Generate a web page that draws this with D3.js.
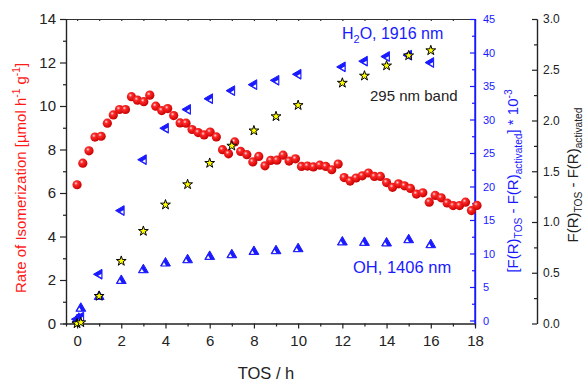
<!DOCTYPE html>
<html><head><meta charset="utf-8">
<script src="https://cdn.jsdelivr.net/npm/d3@7"></script>
<style>body{margin:0;background:#fff}svg{display:block;font-family:"Liberation Sans",Arial,sans-serif}</style>
</head><body><svg id="c" width="584" height="383"></svg>
<script>
// ---- data ----
const rateTime=[0,0.26,0.54,0.81,1.09,1.37,1.64,1.92,2.19,2.46,2.73,3.02,3.29,3.56,3.83,4.10,4.37,4.66,4.93,5.20,5.48,5.75,6.02,6.30,6.58,6.85,7.13,7.40,7.68,7.95,8.22,8.50,8.76,9.04,9.32,9.59,9.88,10.15,10.42,10.69,10.98,11.25,11.52,11.81,12.08,12.35,12.62,12.90,13.18,13.45,13.72,14.00,14.27,14.54,14.81,15.08,15.35,15.64,15.93,16.20,16.47,16.74,17.01,17.30,17.57,17.84,18.09];
const rateValues=[6.38,7.37,7.94,8.57,8.61,9.21,9.59,9.84,9.84,10.43,10.27,10.20,10.50,9.99,9.79,9.88,9.56,9.22,9.21,8.92,8.78,8.67,8.80,8.58,7.99,7.80,8.35,7.91,7.76,7.43,7.68,7.25,7.50,7.51,7.74,7.47,7.57,7.22,7.24,7.20,7.28,7.22,7.07,7.33,6.71,6.55,6.69,6.79,6.92,6.76,6.76,6.48,6.26,6.42,6.33,6.21,5.95,6.01,5.58,5.89,5.78,5.54,5.42,5.42,5.58,5.19,5.43];
const bandTime=[0,0.17,1,2,3,4,5,6,7,8,9,10,12,13,14,15,16];
const bandValues=[0.0,0.01,0.27,0.615,0.91,1.17,1.37,1.58,1.75,1.90,2.04,2.15,2.37,2.44,2.54,2.64,2.69];
const h2oTime=[0,0.17,1,2,3,4,5,6,7,8,9,10,12,13,14,15,16];
const h2oValues=[0.2,0.5,6.9,16.4,24.0,28.7,31.5,33.1,34.3,35.2,35.85,36.75,37.85,38.7,39.4,39.6,38.5];
const ohTime=[0,0.08,0.17,1,2,3,4,5,6,7,8,9,10,12,13,14,15,16];
const ohValues=[0.1,0.3,1.8,3.56,5.95,7.55,8.55,9.04,9.54,9.79,10.28,10.39,10.69,11.69,11.63,11.54,12.03,11.29];
const xTicks=[0,2,4,6,8,10,12,14,16,18];
const leftTicks=[0,2,4,6,8,10,12,14];
const blueTicks=[0,5,10,15,20,25,30,35,40,45];
const thirdTicks=[0,0.5,1.0,1.5,2.0,2.5,3.0];

// ---- layout ----
const L=66,R=475,T=19,B=323.5,AX3=537;
const svg=d3.select('#c');
const x=d3.scaleLinear().domain([-0.5,18]).range([L,R]);
const yL=d3.scaleLinear().domain([0,14]).range([B,T]);
const yB=d3.scaleLinear().domain([-0.45,45]).range([B,T]);
const y3=d3.scaleLinear().domain([0,3]).range([B,T]);
const blue='#1a1aff', red='#ff1a1a', ink='#222';

const defs=svg.append('defs');
const g=defs.append('radialGradient').attr('id','rg').attr('cx','38%').attr('cy','35%').attr('r','65%');
g.append('stop').attr('offset','0%').attr('stop-color','#ffe0e0');
g.append('stop').attr('offset','30%').attr('stop-color','#ff2a2a');
g.append('stop').attr('offset','100%').attr('stop-color','#c80000');

function styleAxis(sel,color,fs){
  sel.selectAll('path,line').attr('stroke',color).attr('stroke-width',1.2);
  sel.selectAll('text').attr('fill',color).attr('font-size',fs).attr('font-family','"Liberation Sans",Arial,sans-serif');
}
// bottom axis
const oddX=d3.range(1,18,2);
svg.append('g').attr('transform',`translate(0,${B})`).call(d3.axisBottom(x).tickValues(oddX).tickSize(3).tickFormat('')).call(s=>styleAxis(s,ink,15));
svg.append('g').attr('transform',`translate(0,${B})`).call(d3.axisBottom(x).tickValues(xTicks).tickSizeInner(5).tickSizeOuter(0).tickPadding(7)).call(s=>styleAxis(s,ink,15));
// top line
svg.append('g').attr('transform',`translate(0,${T})`).call(d3.axisTop(x).tickValues(d3.range(0,19,1)).tickSizeInner(-2).tickSizeOuter(0).tickFormat('')).call(s=>styleAxis(s,'#333',14));
// left axis
svg.append('g').attr('transform',`translate(${L},0)`).call(d3.axisLeft(yL).tickValues(d3.range(1,14,2)).tickSize(3).tickFormat('')).call(s=>styleAxis(s,ink,15));
svg.append('g').attr('transform',`translate(${L},0)`).call(d3.axisLeft(yL).tickValues(leftTicks).tickSizeInner(6).tickSizeOuter(0).tickPadding(4)).call(s=>styleAxis(s,ink,15));
// blue axis
svg.append('g').attr('transform',`translate(${R},0)`).call(d3.axisRight(yB).tickValues(d3.range(2.5,45,5)).tickSizeInner(-3).tickSizeOuter(0).tickFormat('')).call(s=>styleAxis(s,blue,11));
svg.append('g').attr('transform',`translate(${R},0)`).call(d3.axisRight(yB).tickValues(blueTicks).tickSizeInner(-5).tickSizeOuter(0).tickPadding(8)).call(s=>styleAxis(s,blue,11));
svg.append('line').attr('x1',R).attr('x2',R).attr('y1',T).attr('y2',B).attr('stroke',blue).attr('stroke-width',1.4);
// third axis
svg.append('g').attr('transform',`translate(${AX3},0)`).call(d3.axisRight(y3).tickValues(d3.range(0.25,3,0.5)).tickSizeInner(-3).tickSizeOuter(0).tickFormat('')).call(s=>styleAxis(s,ink,12));
svg.append('g').attr('transform',`translate(${AX3},0)`).call(d3.axisRight(y3).tickValues(thirdTicks).tickSizeInner(-5).tickSizeOuter(0).tickPadding(6).tickFormat(d3.format('.1f'))).call(s=>styleAxis(s,ink,12));

// ---- rich text helper ----
function rich(parent,parts,fs,color,anchor){
  const t=parent.append('text').attr('font-size',fs).attr('fill',color).attr('text-anchor',anchor||'middle');
  let shift=0;
  parts.forEach(([s,type])=>{
    const sp=t.append('tspan').text(s);
    let target=0;
    if(type==='sup'){sp.attr('font-size',fs*0.68);target=-fs*0.4;}
    else if(type==='sub'){sp.attr('font-size',fs*0.68);target=fs*0.25;}
    sp.attr('dy',target-shift); shift=target;
  });
  return t;
}
// titles
rich(svg.append('g').attr('transform','translate(26,178) rotate(-90)'),
  [['Rate of Isomerization [µmol h'],['-1','sup'],[' g'],['-1','sup'],[']']],15,red);
rich(svg.append('g').attr('transform','translate(518,181) rotate(-90)'),
  [['[F(R)'],['TOS','sub'],[' - F(R)'],['activated','sub'],['] * 10'],['-3','sup']],15,blue);
rich(svg.append('g').attr('transform','translate(578,175) rotate(-90)'),
  [['F(R)'],['TOS','sub'],[' - F(R)'],['activated','sub']],15,ink);
svg.append('text').attr('x',266).attr('y',378.5).attr('text-anchor','middle').attr('font-size',16.5).attr('fill',ink).text('TOS / h');

// annotations
rich(svg.append('g').attr('transform','translate(342,39)'),[['H'],['2','sub'],['O, 1916 nm']],16,blue,'start');
svg.append('text').attr('x',370).attr('y',101).attr('font-size',15).attr('fill',ink).text('295 nm band');
svg.append('text').attr('x',353).attr('y',273).attr('font-size',16.5).attr('fill',blue).text('OH, 1406 nm');

// ---- marks ----
const tri=d3.symbol().type(d3.symbolTriangle);
function halfTri(gSel,data,rot){
  const gg=gSel.selectAll('g.m').data(data).join('g').attr('class','m')
    .attr('transform',d=>`translate(${x(d[0])},${yB(d[1])}) rotate(${rot})`);
  gg.append('path').attr('d',tri.size(42)()).attr('fill',blue).attr('stroke',blue).attr('stroke-width',1);
  gg.append('path').attr('d',tri.size(6)()).attr('transform','translate(-1.5,1.1)').attr('fill','#fff');
}
halfTri(svg.append('g'),d3.zip(ohTime,ohValues),0);
halfTri(svg.append('g'),d3.zip(h2oTime,h2oValues),-90);

svg.append('g').selectAll('circle').data(d3.zip(rateTime,rateValues)).join('circle')
  .attr('cx',d=>x(d[0])).attr('cy',d=>yL(d[1])).attr('r',4.6).attr('fill','url(#rg)');

svg.append('g').selectAll('path').data(d3.zip(bandTime,bandValues)).join('path')
  .attr('transform',d=>`translate(${x(d[0])},${y3(d[1])})`)
  .attr('d',d3.symbol().type(d3.symbolStar).size(30)())
  .attr('fill','#ffff00').attr('stroke','#000').attr('stroke-width',1);
</script></body></html>
